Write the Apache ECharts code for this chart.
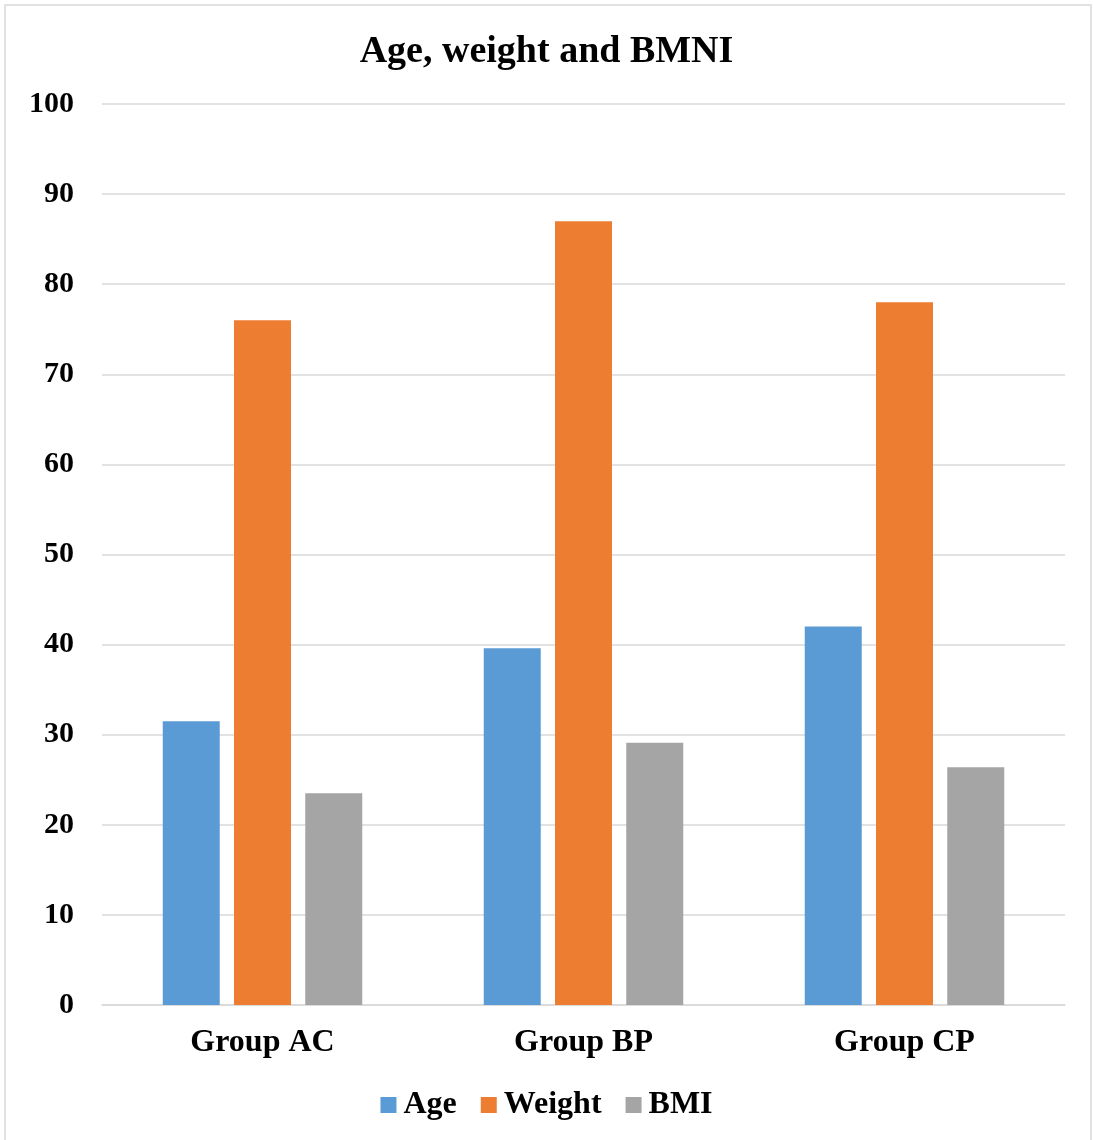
<!DOCTYPE html>
<html><head><meta charset="utf-8">
<script src="https://cdn.jsdelivr.net/npm/echarts@6/dist/echarts.min.js"></script>
<style>html,body{margin:0;padding:0;background:#fff;}#c{width:1093px;height:1140px;}</style>
</head><body><div id="c"></div>
<script>
const categories = ['Group AC', 'Group BP', 'Group CP'];
const age = [31.5, 39.6, 42.0];
const weight = [76.0, 87.0, 78.0];
const bmi = [23.5, 29.1, 26.4];
const yTicks = [0, 10, 20, 30, 40, 50, 60, 70, 80, 90, 100];

const font = '"Liberation Serif", "Times New Roman", serif';
const chart = echarts.init(document.getElementById('c'));
chart.setOption({
  animation: false,
  backgroundColor: '#fff',
  graphic: [{type: 'rect', shape: {x: 5, y: 5, width: 1086, height: 1140}, style: {fill: 'none', stroke: '#d9d9d9', lineWidth: 1.5}, silent: true}],
  title: {text: 'Age, weight and BMNI', left: 'center', top: 28,
    textStyle: {fontFamily: font, fontWeight: 'bold', fontSize: 38, color: '#000'}},
  legend: {bottom: 14, left: 'center', icon: 'rect', itemWidth: 16, itemHeight: 16, itemGap: 24,
    textStyle: {fontFamily: font, fontWeight: 'bold', fontSize: 32, color: '#000', padding: [0, 0, 0, 2]},
    data: ['Age', 'Weight', 'BMI']},
  grid: {left: 102, right: 28, top: 104, bottom: 135, containLabel: false},
  xAxis: {type: 'category', data: categories,
    axisLine: {lineStyle: {color: '#d9d9d9', width: 1.5}}, axisTick: {show: false},
    axisLabel: {fontFamily: font, fontWeight: 'bold', fontSize: 32, color: '#000', margin: 22}},
  yAxis: {type: 'value', min: yTicks[0], max: yTicks[yTicks.length - 1], interval: 10,
    axisLine: {show: false}, axisTick: {show: false},
    splitLine: {lineStyle: {color: '#d9d9d9', width: 1.5}},
    axisLabel: {fontFamily: font, fontWeight: 'bold', fontSize: 30, color: '#000', margin: 28}},
  series: [
    {name: 'Age', type: 'bar', data: age, barWidth: 57, barGap: '25%', itemStyle: {color: '#5b9bd5'}},
    {name: 'Weight', type: 'bar', data: weight, barWidth: 57, barGap: '25%', itemStyle: {color: '#ed7d31'}},
    {name: 'BMI', type: 'bar', data: bmi, barWidth: 57, barGap: '25%', itemStyle: {color: '#a5a5a5'}}
  ]
});
</script></body></html>
